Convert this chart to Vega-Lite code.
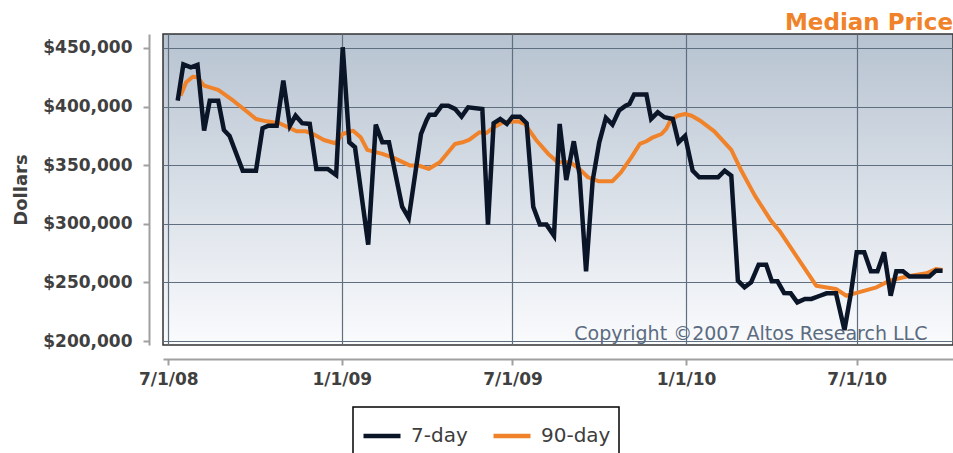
{
  "$schema": "https://vega.github.io/schema/vega-lite/v6.json",
  "width": 790,
  "height": 311,
  "autosize": {"type": "none"},
  "padding": {"left": 163, "top": 34, "right": 0, "bottom": 108},
  "title": {"text": "Median Price", "anchor": "end", "orient": "top", "font": "DejaVu Sans", "fontSize": 23, "fontWeight": "bold", "color": "#f0822a", "baseline": "alphabetic", "offset": 5, "dy": 24},
  "datasets": {
    "p7": [
      {"date": "2008-07-11", "price": 405000, "series": "7-day"},
      {"date": "2008-07-17", "price": 436000, "series": "7-day"},
      {"date": "2008-07-25", "price": 433500, "series": "7-day"},
      {"date": "2008-08-01", "price": 435500, "series": "7-day"},
      {"date": "2008-08-08", "price": 379500, "series": "7-day"},
      {"date": "2008-08-14", "price": 405000, "series": "7-day"},
      {"date": "2008-08-23", "price": 405000, "series": "7-day"},
      {"date": "2008-08-29", "price": 380000, "series": "7-day"},
      {"date": "2008-09-04", "price": 375000, "series": "7-day"},
      {"date": "2008-09-18", "price": 345300, "series": "7-day"},
      {"date": "2008-10-02", "price": 345300, "series": "7-day"},
      {"date": "2008-10-09", "price": 381500, "series": "7-day"},
      {"date": "2008-10-15", "price": 383700, "series": "7-day"},
      {"date": "2008-10-24", "price": 383700, "series": "7-day"},
      {"date": "2008-10-31", "price": 422100, "series": "7-day"},
      {"date": "2008-11-07", "price": 383700, "series": "7-day"},
      {"date": "2008-11-13", "price": 392200, "series": "7-day"},
      {"date": "2008-11-20", "price": 385800, "series": "7-day"},
      {"date": "2008-11-28", "price": 385200, "series": "7-day"},
      {"date": "2008-12-05", "price": 346800, "series": "7-day"},
      {"date": "2008-12-17", "price": 346800, "series": "7-day"},
      {"date": "2008-12-26", "price": 341600, "series": "7-day"},
      {"date": "2009-01-02", "price": 450600, "series": "7-day"},
      {"date": "2009-01-09", "price": 369500, "series": "7-day"},
      {"date": "2009-01-15", "price": 365300, "series": "7-day"},
      {"date": "2009-01-29", "price": 282200, "series": "7-day"},
      {"date": "2009-02-06", "price": 384600, "series": "7-day"},
      {"date": "2009-02-13", "price": 369500, "series": "7-day"},
      {"date": "2009-02-20", "price": 369500, "series": "7-day"},
      {"date": "2009-03-06", "price": 314600, "series": "7-day"},
      {"date": "2009-03-13", "price": 304900, "series": "7-day"},
      {"date": "2009-03-26", "price": 376600, "series": "7-day"},
      {"date": "2009-04-01", "price": 388600, "series": "7-day"},
      {"date": "2009-04-04", "price": 393100, "series": "7-day"},
      {"date": "2009-04-10", "price": 393100, "series": "7-day"},
      {"date": "2009-04-17", "price": 400800, "series": "7-day"},
      {"date": "2009-04-24", "price": 400800, "series": "7-day"},
      {"date": "2009-05-01", "price": 398000, "series": "7-day"},
      {"date": "2009-05-08", "price": 391400, "series": "7-day"},
      {"date": "2009-05-15", "price": 399400, "series": "7-day"},
      {"date": "2009-05-30", "price": 398000, "series": "7-day"},
      {"date": "2009-06-05", "price": 299300, "series": "7-day"},
      {"date": "2009-06-11", "price": 385800, "series": "7-day"},
      {"date": "2009-06-18", "price": 389400, "series": "7-day"},
      {"date": "2009-06-25", "price": 385200, "series": "7-day"},
      {"date": "2009-07-01", "price": 391400, "series": "7-day"},
      {"date": "2009-07-09", "price": 391400, "series": "7-day"},
      {"date": "2009-07-16", "price": 385800, "series": "7-day"},
      {"date": "2009-07-23", "price": 314600, "series": "7-day"},
      {"date": "2009-07-30", "price": 299300, "series": "7-day"},
      {"date": "2009-08-06", "price": 299300, "series": "7-day"},
      {"date": "2009-08-14", "price": 289900, "series": "7-day"},
      {"date": "2009-08-20", "price": 385200, "series": "7-day"},
      {"date": "2009-08-27", "price": 337400, "series": "7-day"},
      {"date": "2009-09-04", "price": 370400, "series": "7-day"},
      {"date": "2009-09-10", "price": 342500, "series": "7-day"},
      {"date": "2009-09-17", "price": 259500, "series": "7-day"},
      {"date": "2009-09-24", "price": 336800, "series": "7-day"},
      {"date": "2009-10-01", "price": 369500, "series": "7-day"},
      {"date": "2009-10-08", "price": 390300, "series": "7-day"},
      {"date": "2009-10-15", "price": 384600, "series": "7-day"},
      {"date": "2009-10-22", "price": 396600, "series": "7-day"},
      {"date": "2009-10-29", "price": 400800, "series": "7-day"},
      {"date": "2009-11-02", "price": 402200, "series": "7-day"},
      {"date": "2009-11-07", "price": 410200, "series": "7-day"},
      {"date": "2009-11-20", "price": 410200, "series": "7-day"},
      {"date": "2009-11-25", "price": 389400, "series": "7-day"},
      {"date": "2009-12-02", "price": 395100, "series": "7-day"},
      {"date": "2009-12-09", "price": 390900, "series": "7-day"},
      {"date": "2009-12-18", "price": 389400, "series": "7-day"},
      {"date": "2009-12-24", "price": 369500, "series": "7-day"},
      {"date": "2009-12-31", "price": 375000, "series": "7-day"},
      {"date": "2010-01-08", "price": 345300, "series": "7-day"},
      {"date": "2010-01-15", "price": 339700, "series": "7-day"},
      {"date": "2010-02-04", "price": 339700, "series": "7-day"},
      {"date": "2010-02-11", "price": 345300, "series": "7-day"},
      {"date": "2010-02-18", "price": 341000, "series": "7-day"},
      {"date": "2010-02-25", "price": 251500, "series": "7-day"},
      {"date": "2010-03-04", "price": 245800, "series": "7-day"},
      {"date": "2010-03-11", "price": 250100, "series": "7-day"},
      {"date": "2010-03-19", "price": 265100, "series": "7-day"},
      {"date": "2010-03-27", "price": 265100, "series": "7-day"},
      {"date": "2010-04-02", "price": 250900, "series": "7-day"},
      {"date": "2010-04-08", "price": 250900, "series": "7-day"},
      {"date": "2010-04-15", "price": 241000, "series": "7-day"},
      {"date": "2010-04-22", "price": 240700, "series": "7-day"},
      {"date": "2010-04-29", "price": 233000, "series": "7-day"},
      {"date": "2010-05-07", "price": 235900, "series": "7-day"},
      {"date": "2010-05-14", "price": 235900, "series": "7-day"},
      {"date": "2010-05-23", "price": 238600, "series": "7-day"},
      {"date": "2010-05-30", "price": 240700, "series": "7-day"},
      {"date": "2010-06-09", "price": 240700, "series": "7-day"},
      {"date": "2010-06-18", "price": 209400, "series": "7-day"},
      {"date": "2010-06-25", "price": 241500, "series": "7-day"},
      {"date": "2010-07-01", "price": 275700, "series": "7-day"},
      {"date": "2010-07-09", "price": 275700, "series": "7-day"},
      {"date": "2010-07-16", "price": 259500, "series": "7-day"},
      {"date": "2010-07-23", "price": 259500, "series": "7-day"},
      {"date": "2010-07-30", "price": 275700, "series": "7-day"},
      {"date": "2010-08-06", "price": 238600, "series": "7-day"},
      {"date": "2010-08-12", "price": 259500, "series": "7-day"},
      {"date": "2010-08-19", "price": 259500, "series": "7-day"},
      {"date": "2010-08-26", "price": 255000, "series": "7-day"},
      {"date": "2010-09-16", "price": 255000, "series": "7-day"},
      {"date": "2010-09-23", "price": 260000, "series": "7-day"},
      {"date": "2010-09-30", "price": 260000, "series": "7-day"}
    ],
    "p90": [
      {"date": "2008-07-14", "price": 409300, "series": "90-day"},
      {"date": "2008-07-20", "price": 420700, "series": "90-day"},
      {"date": "2008-07-27", "price": 425500, "series": "90-day"},
      {"date": "2008-08-01", "price": 425000, "series": "90-day"},
      {"date": "2008-08-08", "price": 417800, "series": "90-day"},
      {"date": "2008-08-23", "price": 414200, "series": "90-day"},
      {"date": "2008-09-08", "price": 405000, "series": "90-day"},
      {"date": "2008-09-22", "price": 396000, "series": "90-day"},
      {"date": "2008-10-02", "price": 389400, "series": "90-day"},
      {"date": "2008-10-13", "price": 387400, "series": "90-day"},
      {"date": "2008-10-27", "price": 385800, "series": "90-day"},
      {"date": "2008-11-14", "price": 378900, "series": "90-day"},
      {"date": "2008-11-24", "price": 378900, "series": "90-day"},
      {"date": "2008-12-03", "price": 376000, "series": "90-day"},
      {"date": "2008-12-13", "price": 371500, "series": "90-day"},
      {"date": "2008-12-25", "price": 368700, "series": "90-day"},
      {"date": "2009-01-02", "price": 376600, "series": "90-day"},
      {"date": "2009-01-13", "price": 379400, "series": "90-day"},
      {"date": "2009-01-21", "price": 373800, "series": "90-day"},
      {"date": "2009-01-28", "price": 363000, "series": "90-day"},
      {"date": "2009-02-13", "price": 359600, "series": "90-day"},
      {"date": "2009-02-25", "price": 356200, "series": "90-day"},
      {"date": "2009-03-14", "price": 349800, "series": "90-day"},
      {"date": "2009-03-23", "price": 349800, "series": "90-day"},
      {"date": "2009-04-03", "price": 346800, "series": "90-day"},
      {"date": "2009-04-15", "price": 352500, "series": "90-day"},
      {"date": "2009-05-01", "price": 368100, "series": "90-day"},
      {"date": "2009-05-09", "price": 369500, "series": "90-day"},
      {"date": "2009-05-16", "price": 371500, "series": "90-day"},
      {"date": "2009-05-27", "price": 378100, "series": "90-day"},
      {"date": "2009-06-03", "price": 377200, "series": "90-day"},
      {"date": "2009-06-10", "price": 381700, "series": "90-day"},
      {"date": "2009-06-21", "price": 386600, "series": "90-day"},
      {"date": "2009-07-07", "price": 387400, "series": "90-day"},
      {"date": "2009-07-14", "price": 385200, "series": "90-day"},
      {"date": "2009-07-26", "price": 371500, "series": "90-day"},
      {"date": "2009-08-08", "price": 359600, "series": "90-day"},
      {"date": "2009-08-18", "price": 352500, "series": "90-day"},
      {"date": "2009-08-31", "price": 352500, "series": "90-day"},
      {"date": "2009-09-10", "price": 346800, "series": "90-day"},
      {"date": "2009-09-19", "price": 339700, "series": "90-day"},
      {"date": "2009-09-30", "price": 336300, "series": "90-day"},
      {"date": "2009-10-15", "price": 336300, "series": "90-day"},
      {"date": "2009-10-24", "price": 343900, "series": "90-day"},
      {"date": "2009-11-04", "price": 356700, "series": "90-day"},
      {"date": "2009-11-13", "price": 368100, "series": "90-day"},
      {"date": "2009-11-20", "price": 370400, "series": "90-day"},
      {"date": "2009-11-27", "price": 373800, "series": "90-day"},
      {"date": "2009-12-06", "price": 376600, "series": "90-day"},
      {"date": "2009-12-11", "price": 380900, "series": "90-day"},
      {"date": "2009-12-15", "price": 387400, "series": "90-day"},
      {"date": "2009-12-23", "price": 392200, "series": "90-day"},
      {"date": "2009-12-31", "price": 393700, "series": "90-day"},
      {"date": "2010-01-07", "price": 392200, "series": "90-day"},
      {"date": "2010-01-17", "price": 387400, "series": "90-day"},
      {"date": "2010-01-31", "price": 378900, "series": "90-day"},
      {"date": "2010-02-18", "price": 363000, "series": "90-day"},
      {"date": "2010-03-01", "price": 344800, "series": "90-day"},
      {"date": "2010-03-15", "price": 324000, "series": "90-day"},
      {"date": "2010-04-01", "price": 302700, "series": "90-day"},
      {"date": "2010-04-10", "price": 294100, "series": "90-day"},
      {"date": "2010-05-19", "price": 247200, "series": "90-day"},
      {"date": "2010-06-09", "price": 244400, "series": "90-day"},
      {"date": "2010-06-20", "price": 238600, "series": "90-day"},
      {"date": "2010-06-29", "price": 240700, "series": "90-day"},
      {"date": "2010-07-22", "price": 245800, "series": "90-day"},
      {"date": "2010-08-05", "price": 251500, "series": "90-day"},
      {"date": "2010-08-23", "price": 255000, "series": "90-day"},
      {"date": "2010-09-13", "price": 257800, "series": "90-day"},
      {"date": "2010-09-23", "price": 261400, "series": "90-day"},
      {"date": "2010-09-30", "price": 260600, "series": "90-day"}
    ],
    "note": [
      {"date": "2010-09-14", "price": 201000, "label": "Copyright ©2007 Altos Research LLC"}
    ]
  },
  "encoding": {
    "x": {
      "field": "date", "type": "temporal",
      "scale": {"type": "utc", "domain": [{"year": 2008, "month": 6, "date": 25, "hours": 10, "utc": true}, {"year": 2010, "month": 10, "date": 11, "hours": 2, "utc": true}]},
      "axis": {
        "title": null, "offset": 14,
        "values": [{"year": 2008, "month": 7, "date": 1, "utc": true}, {"year": 2009, "month": 1, "date": 1, "utc": true}, {"year": 2009, "month": 7, "date": 1, "utc": true}, {"year": 2010, "month": 1, "date": 1, "utc": true}, {"year": 2010, "month": 7, "date": 1, "utc": true}],
        "labelExpr": "utcFormat(datum.value, '%-m/%-d/%y')",
        "labelPadding": 6
      }
    },
    "y": {
      "field": "price", "type": "quantitative",
      "scale": {"domain": [196600, 461900], "nice": false, "zero": false},
      "axis": {
        "title": "Dollars", "offset": 14,
        "values": [200000, 250000, 300000, 350000, 400000, 450000],
        "format": "$,.0f",
        "labelPadding": 11, "titlePadding": 12
      }
    }
  },
  "layer": [
    {
      "data": {"name": "p90"},
      "mark": {"type": "line", "strokeWidth": 4, "strokeJoin": "round"},
      "encoding": {
        "color": {"field": "series", "type": "nominal", "scale": {"domain": ["7-day", "90-day"], "range": ["#0b1528", "#f0822a"]}}
      }
    },
    {
      "data": {"name": "p7"},
      "mark": {"type": "line", "strokeWidth": 4.5},
      "encoding": {
        "color": {"field": "series", "type": "nominal", "scale": {"domain": ["7-day", "90-day"], "range": ["#0b1528", "#f0822a"]}}
      }
    },
    {
      "data": {"name": "note"},
      "mark": {"type": "text", "align": "right", "baseline": "alphabetic", "font": "DejaVu Sans", "fontSize": 19, "color": "#5b6b80"},
      "encoding": {"text": {"field": "label"}}
    }
  ],
  "config": {
    "view": {
      "stroke": "#333333", "strokeWidth": 1.5,
      "fill": {"gradient": "linear", "x1": 0, "y1": 0, "x2": 0, "y2": 1, "stops": [{"offset": 0, "color": "#b7c3d1"}, {"offset": 1, "color": "#fafbfd"}]}
    },
    "axis": {
      "grid": true, "gridColor": "#5f6f80", "gridWidth": 1.2, "gridOpacity": 1,
      "domainColor": "#a0a0a0", "domainWidth": 2,
      "tickColor": "#a0a0a0", "tickWidth": 2, "tickSize": 6,
      "labelFont": "DejaVu Sans", "labelFontSize": 17, "labelFontWeight": "bold", "labelColor": "#404040",
      "titleFont": "DejaVu Sans", "titleFontSize": 18, "titleFontWeight": "bold", "titleColor": "#404040"
    },
    "legend": {
      "orient": "none", "legendX": 190, "legendY": 373,
      "direction": "horizontal",
      "title": " ", "titleFontSize": 5, "titlePadding": 1,
      "padding": 8, "strokeColor": "#000000", "fillColor": "#ffffff", "strokeWidth": 1.5,
      "symbolType": "stroke", "symbolSize": 1369, "symbolStrokeWidth": 4.5,
      "labelFont": "DejaVu Sans", "labelFontSize": 20, "labelColor": "#3d3d3d", "labelOffset": 8,
      "columnPadding": 16
    }
  }
}
